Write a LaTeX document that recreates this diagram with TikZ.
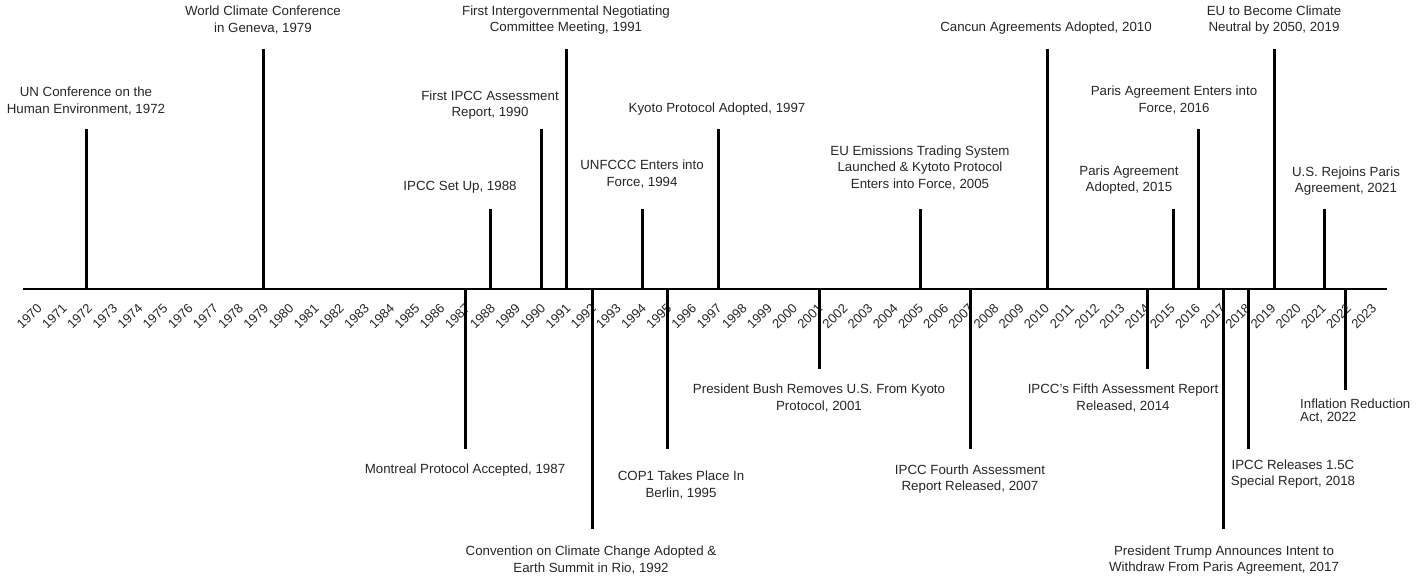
\documentclass[tikz,border=0pt]{standalone}
\usepackage{fontspec}
\setmainfont{Liberation Sans}
\begin{document}
\begin{tikzpicture}[x=1pt,y=-1pt,
  stem/.style={line width=3pt,black},
  axisline/.style={line width=1.3pt,black},
  lbl/.style={font=\fontsize{13.3}{16.8}\selectfont,align=center,inner sep=0pt,text=black!85},
  yr/.style={font=\fontsize{13}{13}\selectfont,rotate=45,anchor=east,inner sep=0pt,text=black!85}]
\useasboundingbox (0,0) rectangle (1422,576);
% axis
\coordinate (axL) at (23,289);
\coordinate (axR) at (1387,289);
\draw[axisline] (axL) -- (axR);
% year labels
\foreach \yy in {1970,...,2023}{
  \pgfmathsetmacro{\xx}{86+(\yy-1972)*25.18}
  \node[yr] (y\yy) at (\xx+4,306) {\yy};
}
% stems: name, x, end y
\foreach \nm/\xx/\ey in {
  1972/86/129, 1979/263/49, 1987/465/449, 1988/490/209, 1990/541/129,
  1991/566/49, 1992/592/529, 1994/642/209, 1995/667/449, 1997/718/129,
  2001/819/369, 2005/920/209, 2007/970/449, 2010/1047/49, 2014/1147/369,
  2015/1173/209, 2016/1198/129, 2017/1223/529, 2018/1248/449, 2019/1274/49,
  2021/1324/209, 2022/1345/390}{
  \coordinate (a\nm) at (\xx,289);
  \coordinate (e\nm) at (\xx,\ey);
  \draw[stem] (a\nm) -- (e\nm);
}
% top labels
\node[lbl] (l1972) at (86,101) {UN Conference on the\\Human Environment, 1972};
\node[lbl] (l1979) at (263,20) {World Climate Conference\\in Geneva, 1979};
\node[lbl] (l1988) at (460,187) {IPCC Set Up, 1988};
\node[lbl] (l1990) at (490,105) {First IPCC Assessment\\Report, 1990};
\node[lbl] (l1991) at (566,20) {First Intergovernmental Negotiating\\Committee Meeting, 1991};
\node[lbl] (l1994) at (642,174) {UNFCCC Enters into\\Force, 1994};
\node[lbl] (l1997) at (717,109) {Kyoto Protocol Adopted, 1997};
\node[lbl] (l2005) at (920,168) {EU Emissions Trading System\\Launched \& Kytoto Protocol\\Enters into Force, 2005};
\node[lbl] (l2010) at (1046,28) {Cancun Agreements Adopted, 2010};
\node[lbl] (l2015) at (1129,180) {Paris Agreement\\Adopted, 2015};
\node[lbl] (l2016) at (1174,100) {Paris Agreement Enters into\\Force, 2016};
\node[lbl] (l2019) at (1274,20) {EU to Become Climate\\Neutral by 2050, 2019};
\node[lbl] (l2021) at (1346,181) {U.S. Rejoins Paris\\Agreement, 2021};
% bottom labels
\node[lbl] (l1987) at (465,470) {Montreal Protocol Accepted, 1987};
\node[lbl] (l1992) at (591,560) {Convention on Climate Change Adopted \&\\Earth Summit in Rio, 1992};
\node[lbl] (l1995) at (681,485) {COP1 Takes Place In\\Berlin, 1995};
\node[lbl] (l2001) at (819,398) {President Bush Removes U.S. From Kyoto\\Protocol, 2001};
\node[lbl] (l2007) at (970,479) {IPCC Fourth Assessment\\Report Released, 2007};
\node[lbl] (l2014) at (1123,398) {IPCC's Fifth Assessment Report\\Released, 2014};
\node[lbl] (l2017) at (1224,560) {President Trump Announces Intent to\\Withdraw From Paris Agreement, 2017};
\node[lbl] (l2018) at (1293,474) {IPCC Releases 1.5C\\Special Report, 2018};
\node[lbl,align=left,anchor=west,font=\fontsize{13.3}{13.8}\selectfont] (l2022) at (1300,411) {Inflation Reduction\\Act, 2022};
\end{tikzpicture}
\end{document}
